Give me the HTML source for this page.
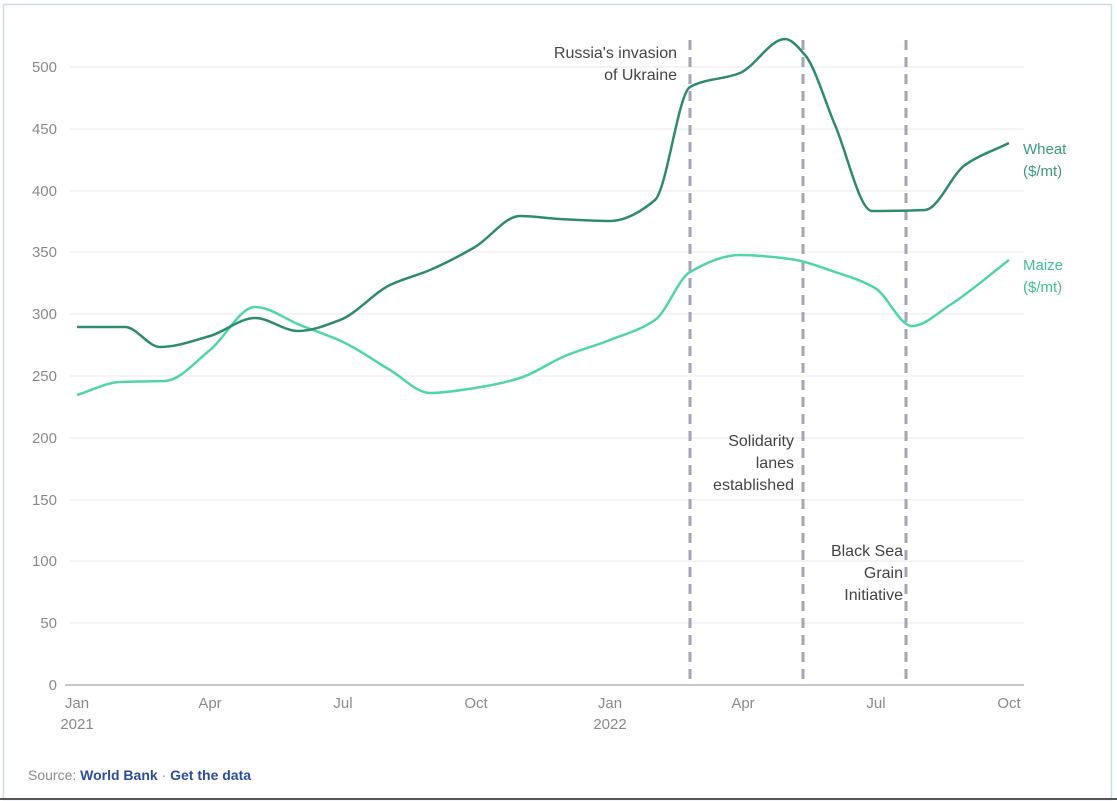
<!DOCTYPE html>
<html><head><meta charset="utf-8"><style>
html,body{margin:0;padding:0;background:#fff;}
body{width:1117px;height:801px;overflow:hidden;position:relative;font-family:"Liberation Sans",sans-serif;}
svg{position:absolute;left:0;top:0;}
</style></head><body>
<svg width="1117" height="801" viewBox="0 0 1117 801">
<rect x="3.5" y="4.5" width="1108" height="795" fill="#fff" stroke="#c9dde3" stroke-width="1.5"/>
<line x1="0" y1="799" x2="1117" y2="799" stroke="#555" stroke-width="2"/>
<g stroke="#e8e8e8" stroke-width="1">
<line x1="70" x2="1024" y1="67" y2="67"/><line x1="70" x2="1024" y1="129" y2="129"/>
<line x1="70" x2="1024" y1="191" y2="191"/><line x1="70" x2="1024" y1="252" y2="252"/>
<line x1="70" x2="1024" y1="314" y2="314"/><line x1="70" x2="1024" y1="376" y2="376"/>
<line x1="70" x2="1024" y1="438" y2="438"/><line x1="70" x2="1024" y1="500" y2="500"/>
<line x1="70" x2="1024" y1="561" y2="561"/><line x1="70" x2="1024" y1="623" y2="623"/>
</g>
<line x1="65" x2="1024" y1="685" y2="685" stroke="#c8c8c8" stroke-width="2"/>
<g font-size="15" fill="#8a8a8a" text-anchor="end">
<text x="57" y="72">500</text><text x="57" y="134">450</text><text x="57" y="196">400</text>
<text x="57" y="257">350</text><text x="57" y="319">300</text><text x="57" y="381">250</text>
<text x="57" y="443">200</text><text x="57" y="505">150</text><text x="57" y="566">100</text>
<text x="57" y="628">50</text><text x="57" y="690">0</text>
</g>
<g font-size="15" fill="#8a8a8a" text-anchor="middle">
<text x="77" y="708">Jan</text><text x="77" y="729">2021</text>
<text x="210" y="708">Apr</text><text x="343" y="708">Jul</text><text x="476" y="708">Oct</text>
<text x="610" y="708">Jan</text><text x="610" y="729">2022</text>
<text x="743" y="708">Apr</text><text x="876" y="708">Jul</text><text x="1009" y="708">Oct</text>
</g>
<g stroke="#a2a6b6" stroke-width="3" stroke-dasharray="10,7">
<line x1="690" x2="690" y1="40" y2="685"/><line x1="803" x2="803" y1="40" y2="685"/><line x1="906" x2="906" y1="40" y2="685"/>
</g>
<path id="maize" fill="none" stroke="#4fd6a8" stroke-width="2.5"/>
<path id="wheat" fill="none" stroke="#2e8a70" stroke-width="2.5"/>
<g font-size="16" fill="#444" text-anchor="end">
<text x="677" y="58">Russia's invasion</text><text x="677" y="80">of Ukraine</text>
<text x="794" y="446">Solidarity</text><text x="794" y="468">lanes</text><text x="794" y="490">established</text>
<text x="903" y="556">Black Sea</text><text x="903" y="578">Grain</text><text x="903" y="600">Initiative</text>
</g>
<g font-size="15" fill="#3a9a7e"><text x="1023" y="154">Wheat</text><text x="1023" y="176">($/mt)</text></g>
<g font-size="15" fill="#3fbf95"><text x="1023" y="270">Maize</text><text x="1023" y="292">($/mt)</text></g>
<text x="28" y="780" font-size="14" fill="#8a8a8a">Source: <tspan fill="#2a4f9c" font-weight="bold">World Bank</tspan> · <tspan fill="#2a4f9c" font-weight="bold">Get the data</tspan></text>
</svg>
<script>
function mono(p){const n=p.length,dx=[],s=[],m=[];
for(let i=0;i<n-1;i++){dx[i]=p[i+1][0]-p[i][0];s[i]=(p[i+1][1]-p[i][1])/dx[i];}
m[0]=s[0];m[n-1]=s[n-2];
for(let i=1;i<n-1;i++){if(s[i-1]*s[i]<=0)m[i]=0;else{const w1=2*dx[i]+dx[i-1],w2=dx[i]+2*dx[i-1];m[i]=(w1+w2)/(w1/s[i-1]+w2/s[i]);}}
let d="M"+p[0][0]+","+p[0][1];
for(let i=0;i<n-1;i++){const h=dx[i]/3;d+=" C"+(p[i][0]+h)+","+(p[i][1]+m[i]*h)+" "+(p[i+1][0]-h)+","+(p[i+1][1]-m[i+1]*h)+" "+p[i+1][0]+","+p[i+1][1];}
return d;}
const w=[[77,327],[125,327],[160,347],[210,336],[255,318],[298,331],[340,320],[390,285],[430,270],[475,247],[520,216],[560,219],[610,221],[655,200],[690,87],[740,73],[785,39],[805,55],[835,125],[872,211],[925,210],[965,165],[1009,143]];
const m=[[77,395],[120,382],[165,381],[210,350],[255,307],[300,325],[345,343],[390,370],[430,393],[475,388],[520,378],[565,356],[610,340],[655,320],[690,272],[740,255],[790,259],[835,272],[875,288],[912,326],[950,305],[1009,260]];
document.getElementById("wheat").setAttribute("d",mono(w));
document.getElementById("maize").setAttribute("d",mono(m));
</script>
</body></html>
